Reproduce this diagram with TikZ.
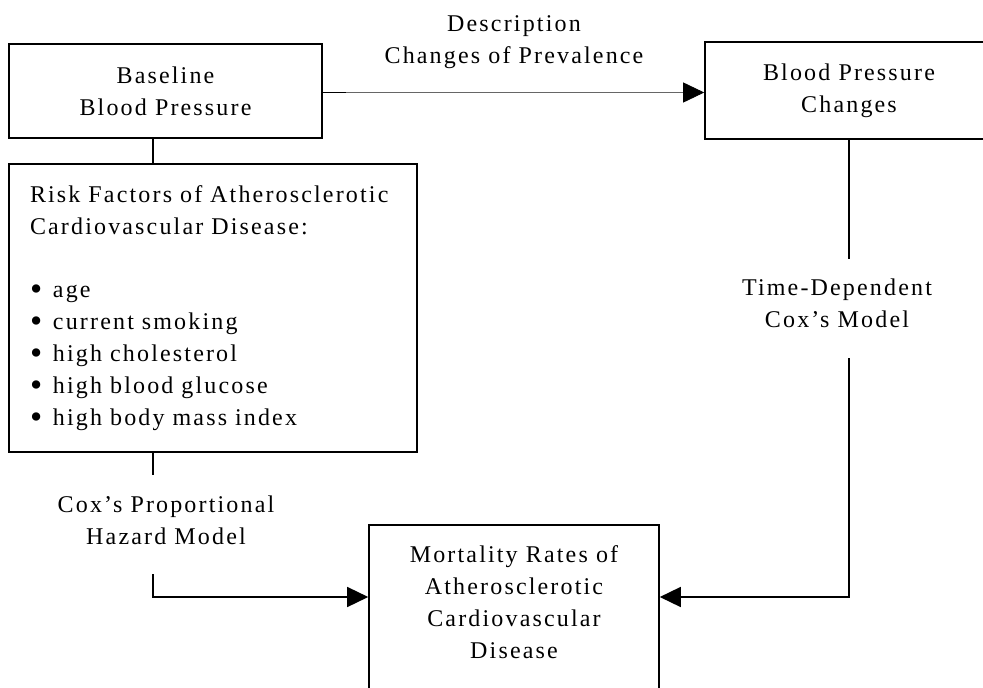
\documentclass[tikz,border=0pt]{standalone}
\usepackage{fontspec}
\setmainfont{Liberation Serif}[LetterSpace=9]
\usetikzlibrary{arrows.meta,calc}
\newcommand\myfnt{\fontsize{24}{32}\selectfont}
\newcommand\blt{\makebox[23pt][l]{\raisebox{-3.2pt}{\scalebox{1.45}{\textbullet}}}}
\begin{document}
\begin{tikzpicture}[x=1pt,y=-1pt,
  box/.style={draw, line width=1.6pt, rectangle, inner sep=0pt, align=center, font=\myfnt},
  txt/.style={align=center, inner sep=0pt, font=\myfnt},
  conn/.style={line width=1.5pt},
  tip/.style={-{Triangle[length=21pt,width=20pt,color=black]}}
]
\useasboundingbox (0,0) rectangle (983,688);
\clip (0,0) rectangle (983,688);

% boxes
\node[box, minimum width=313pt, minimum height=94pt] (base) at (165.5,91) {Baseline\\Blood Pressure};
\node[box, minimum width=288pt, minimum height=97pt] (bpc) at (849,90.5) {Blood Pressure\\Changes};
\node[box, minimum width=408pt, minimum height=288pt, text width=366pt, align=left, inner xsep=21pt] (risk) at (213,308)
 {Risk Factors of Atherosclerotic\\Cardiovascular Disease:\\[31pt]
  \blt age\\
  \blt current smoking\\
  \blt high cholesterol\\
  \blt high blood glucose\\
  \blt high body mass index};
\node[box, minimum width=290pt, minimum height=200pt, anchor=north] (mort) at (514,524) {};
\node[txt, anchor=north] (morttxt) at ($(mort.north)+(0,21)$) {Mortality Rates of\\Atherosclerotic\\Cardiovascular\\Disease};

% labels
\node[txt] (desc) at (514,42) {Description\\Changes of Prevalence};
\node[txt] (coxph) at (166,520) {Cox’s Proportional\\Hazard Model};
\node[txt] (tdcox) at (837,303) {Time-Dependent\\Cox’s Model};

% coordinates
\coordinate (ty) at (0,92.5);
\coordinate (cx) at (153,0);
\coordinate (k1) at (153,475);
\coordinate (k2) at (153,574);
\coordinate (ay) at (0,597);
\coordinate (r1) at (849,259);
\coordinate (r2) at (849,358);

% connectors
\draw[line width=0.8pt, gray!80!black, tip] (base.east |- ty) -- (bpc.west |- ty);
\draw[conn] (base.east |- ty) -- ++(23,0);
\draw[conn] (base.south -| cx) -- (risk.north -| cx);
\draw[conn] (risk.south -| cx) -- (k1);
\draw[conn, tip] (k2) |- (mort.west |- ay);
\draw[conn] (bpc.south) -- (r1);
\draw[conn, tip] (r2) |- (mort.east |- ay);
\end{tikzpicture}
\end{document}
